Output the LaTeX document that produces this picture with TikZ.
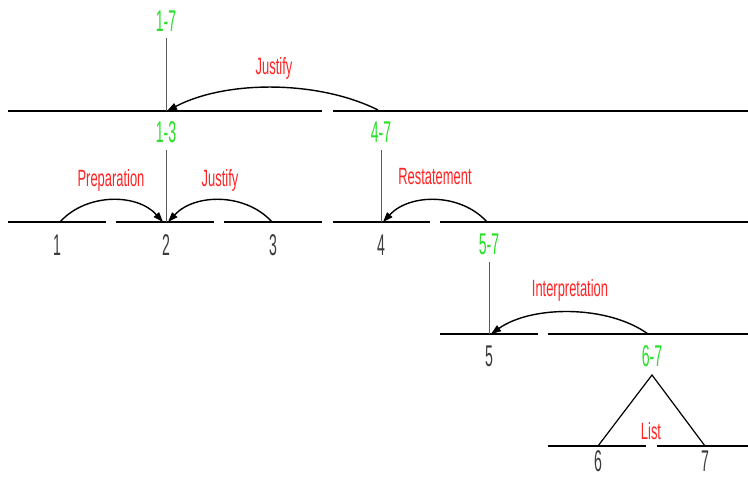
\documentclass[tikz,border=0pt]{standalone}
\usepackage{fontspec}
\setmainfont{Liberation Sans}
\newfontfamily\narrowfont[FakeStretch=0.55]{Liberation Sans}
\newfontfamily\digitfont[FakeStretch=0.47]{Liberation Sans}
\usetikzlibrary{arrows.meta}
\definecolor{spangreen}{RGB}{40,225,40}
\definecolor{relred}{RGB}{255,35,35}
\definecolor{leafgray}{RGB}{60,60,60}
\definecolor{stemgray}{RGB}{90,90,90}
\begin{document}
\begin{tikzpicture}[x=1pt,y=-1pt,
  seg/.style={line width=2.2pt, draw=black},
  stem/.style={line width=1pt, draw=stemgray},
  rel/.style={line width=1.4pt, draw=black, -{Triangle[length=10pt,width=7pt]}},
  tri/.style={line width=1.2pt, draw=black},
  lab/.style={font=\narrowfont\fontsize{23.5}{25}\selectfont, inner sep=0pt, anchor=base},
  numlab/.style={font=\digitfont\fontsize{30}{32}\selectfont, inner sep=0pt, anchor=base},
  spanlab/.style={numlab, text=spangreen},
  rellab/.style={lab, text=relred},
  leaflab/.style={numlab, text=leafgray},
]
\useasboundingbox[fill=white] (0,0) rectangle (748,478);

% ---- horizontal segments ----
% row 1
\draw[seg] (8,111) -- (322,111);
\draw[seg] (333,111) -- (748,111);
% row 2
\draw[seg] (8,222) -- (106,222);
\draw[seg] (116,222) -- (214,222);
\draw[seg] (224,222) -- (322,222);
\draw[seg] (333,222) -- (430,222);
\draw[seg] (440,222) -- (748,222);
% row 3
\draw[seg] (440,334) -- (538,334);
\draw[seg] (548,334) -- (748,334);
% row 4
\draw[seg] (548,446) -- (646,446);
\draw[seg] (657,446) -- (748,446);

% ---- span labels ----
\node[spanlab] (s17) at (166,32) {1-7};
\node[spanlab] (s13) at (166,143) {1-3};
\node[spanlab] (s47) at (381,143) {4-7};
\node[spanlab] (s57) at (489,255) {5-7};
\node[spanlab] (s67) at (652,367) {6-7};

% ---- leaf labels ----
\node[leaflab] (n1) at (57,256) {1};
\node[leaflab] (n2) at (166,256) {2};
\node[leaflab] (n3) at (273,256) {3};
\node[leaflab] (n4) at (381,256) {4};
\node[leaflab] (n5) at (489,367) {5};
\node[leaflab] (n6) at (598,472) {6};
\node[leaflab] (n7) at (705,472) {7};

% ---- attachment points ----
\coordinate (t17) at (166,38);   \coordinate (b17) at (166,111);
\coordinate (t13) at (166,150);  \coordinate (b13) at (166,222);
\coordinate (t47) at (381,150);  \coordinate (b47) at (381,222);
\coordinate (t57) at (489,262);  \coordinate (b57) at (489,334);
\coordinate (apex) at (652,375);
\coordinate (p6) at (598,446);   \coordinate (p7) at (705,446);

% ---- stems ----
\draw[stem] (t17) -- (b17);
\draw[stem] (t13) -- (b13);
\draw[stem] (t47) -- (b47);
\draw[stem] (t57) -- (b57);

% ---- relation arcs ----
\coordinate (jA) at (378,110);  \coordinate (jB) at (167,111);
\draw[rel] (jA) .. controls (318,80) and (226,80) .. (jB);
\node[rellab] (justifyTop) at (274,75) {Justify};

\coordinate (pA) at (60,222);   \coordinate (pB) at (163,222);
\draw[rel] (pA) .. controls (86,193) and (137,193) .. (pB);
\node[rellab] (prep) at (111,187) {Preparation};

\coordinate (qA) at (272,222);  \coordinate (qB) at (168,222);
\draw[rel] (qA) .. controls (246,193) and (195,193) .. (qB);
\node[rellab] (justify2) at (220,187) {Justify};

\coordinate (rA) at (487,222);  \coordinate (rB) at (383,222);
\draw[rel] (rA) .. controls (461,193) and (410,193) .. (rB);
\node[rellab] (restate) at (435,185) {Restatement};

\coordinate (iA) at (648,334);  \coordinate (iB) at (491,334);
\draw[rel] (iA) .. controls (608,305) and (532,305) .. (iB);
\node[rellab] (interp) at (570,297) {Interpretation};

% ---- list ----
\draw[tri] (p6) -- (apex) -- (p7);
\node[rellab] (list) at (651,440) {List};
\end{tikzpicture}
\end{document}
